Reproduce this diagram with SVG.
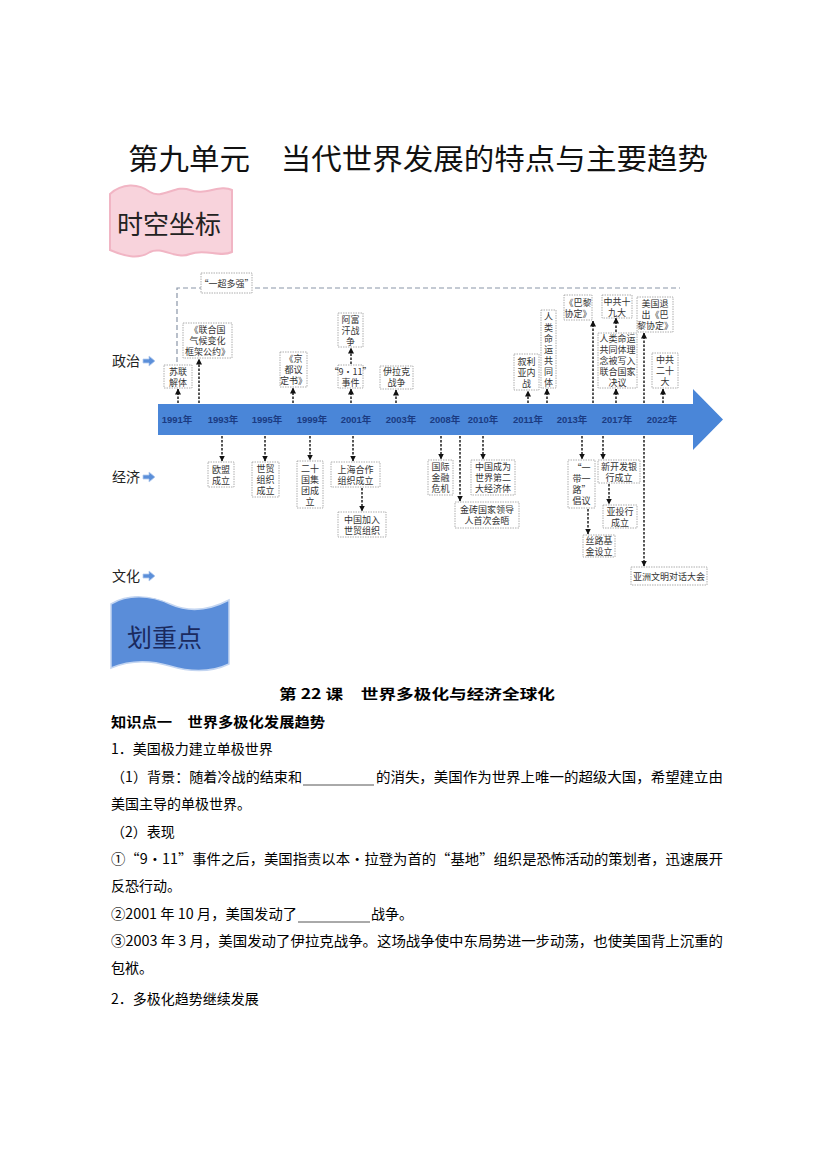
<svg xmlns="http://www.w3.org/2000/svg" width="827" height="1169" viewBox="0 0 827 1169">
<defs>
<marker id="ah" markerUnits="userSpaceOnUse" markerWidth="6" markerHeight="6" refX="5.5" refY="3" orient="auto">
<path d="M0,0 L6,3 L0,6 Z" fill="#111"/>
</marker>
<style>
.box{fill:#fff;stroke:#9a9a9a;stroke-width:0.8;stroke-dasharray:1.5 1;}
.bt{font-family:"Noto Sans CJK SC",sans-serif;font-size:9px;fill:#333;text-anchor:middle;}
.arr{stroke:#111;stroke-width:1.4;stroke-dasharray:2.5 1.5;fill:none;marker-end:url(#ah);}
.yr{font-family:"Liberation Sans","Noto Sans CJK SC",sans-serif;font-size:9.5px;font-weight:bold;fill:#1b3b82;text-anchor:middle;}
.body{font-family:"Noto Sans CJK SC",sans-serif;font-size:14px;fill:#000;}
.b{font-weight:bold;}
.lab{font-family:"Noto Sans CJK SC",sans-serif;font-size:14px;fill:#222;}
.ico{fill:#5b8fd9;stroke:#b5cbef;stroke-width:0.8;}
.ul{stroke:#555;stroke-width:1;}
</style>
</defs>
<rect width="827" height="1169" fill="#fff"/>

<g id="title">
<text x="128" y="170" font-family="Noto Sans CJK SC, sans-serif" font-size="29" fill="#111" textLength="580" lengthAdjust="spacingAndGlyphs">第九单元　当代世界发展的特点与主要趋势</text>
</g>

<g id="banner-shikong">
<path d="M110,194 C122,183 138,183 150,192 C162,200 176,184 190,190 C204,196 220,184 232,190 L232,252 C220,258 205,248 190,254 C176,260 162,246 150,252 C138,260 124,256 110,250 Z" fill="#f8d3dc" stroke="#f1b5c4" stroke-width="2"/>
<text x="117" y="234" font-family="Noto Sans CJK SC, sans-serif" font-size="26" fill="#222">时空坐标</text>
</g>

<g id="row-labels">
<text class="lab" x="112" y="366">政治</text>
<path class="ico" d="M143,359 H149 V356 L155,361 L149,366 V363 H143 Z"/>
<text class="lab" x="112" y="482">经济</text>
<path class="ico" d="M143,475 H149 V472 L155,477 L149,482 V479 H143 Z"/>
<text class="lab" x="112" y="581">文化</text>
<path class="ico" d="M143,574 H149 V571 L155,576 L149,581 V578 H143 Z"/>
</g>

<g id="bracket">
<path d="M177,362 L177,288 L680,288" fill="none" stroke="#8a96a8" stroke-width="1.2" stroke-dasharray="5 3"/>
</g>

<g id="timeline">
<path d="M158,404 H693 V389 L723,419.5 L693,450 V435 H158 Z" fill="#4a86d8"/>
<text class="yr" x="177" y="423">1991年</text>
<text class="yr" x="223" y="423">1993年</text>
<text class="yr" x="267" y="423">1995年</text>
<text class="yr" x="312" y="423">1999年</text>
<text class="yr" x="356" y="423">2001年</text>
<text class="yr" x="401" y="423">2003年</text>
<text class="yr" x="445" y="423">2008年</text>
<text class="yr" x="483" y="423">2010年</text>
<text class="yr" x="528" y="423">2011年</text>
<text class="yr" x="572" y="423">2013年</text>
<text class="yr" x="617" y="423">2017年</text>
<text class="yr" x="662" y="423">2022年</text>
</g>

<g id="connectors">
<line class="arr" x1="178" y1="403" x2="178" y2="389"/>
<line class="arr" x1="199" y1="403" x2="199" y2="359"/>
<line class="arr" x1="293" y1="403" x2="293" y2="388"/>
<line class="arr" x1="351" y1="403" x2="351" y2="389"/>
<line class="arr" x1="351" y1="364" x2="351" y2="348"/>
<line class="arr" x1="396" y1="403" x2="396" y2="390"/>
<line class="arr" x1="528" y1="403" x2="528" y2="391"/>
<line class="arr" x1="547" y1="403" x2="547" y2="389"/>
<line class="arr" x1="593" y1="403" x2="593" y2="321"/>
<line class="arr" x1="616" y1="332" x2="616" y2="318"/>
<line class="arr" x1="616" y1="403" x2="616" y2="389"/>
<line class="arr" x1="644" y1="403" x2="644" y2="333"/>
<line class="arr" x1="663" y1="403" x2="663" y2="389"/>
<line class="arr" x1="222" y1="436" x2="222" y2="461"/>
<line class="arr" x1="265" y1="436" x2="265" y2="461"/>
<line class="arr" x1="310" y1="436" x2="310" y2="460"/>
<line class="arr" x1="353" y1="436" x2="353" y2="461"/>
<line class="arr" x1="362" y1="488" x2="362" y2="511"/>
<line class="arr" x1="441" y1="436" x2="441" y2="459"/>
<line class="arr" x1="460" y1="436" x2="460" y2="501"/>
<line class="arr" x1="483" y1="436" x2="483" y2="459"/>
<line class="arr" x1="582" y1="436" x2="582" y2="459"/>
<line class="arr" x1="588" y1="509" x2="588" y2="534"/>
<line class="arr" x1="603" y1="436" x2="603" y2="459"/>
<line class="arr" x1="609" y1="484" x2="609" y2="504"/>
<line class="arr" x1="644" y1="436" x2="644" y2="566"/>
</g>

<g id="n-yichao"><rect class="box" x="201" y="273" width="51" height="20"/><text class="bt" x="226.5" y="286.5">“一超多强”</text></g>
<g id="n-sulian"><rect class="box" x="164" y="365" width="28" height="23"/><text class="bt" x="178" y="374.5">苏联</text><text class="bt" x="178" y="385.5">解体</text></g>
<g id="n-unfccc"><rect class="box" x="183" y="323" width="49" height="35"/><text class="bt" x="207.5" y="333">《联合国</text><text class="bt" x="207.5" y="344">气候变化</text><text class="bt" x="207.5" y="355">框架公约》</text></g>
<g id="n-kyoto"><rect class="box" x="280" y="352" width="27" height="35"/><text class="bt" x="293.5" y="362">《京</text><text class="bt" x="293.5" y="373">都议</text><text class="bt" x="293.5" y="384">定书》</text></g>
<g id="n-afghan"><rect class="box" x="338" y="313" width="25" height="34"/><text class="bt" x="350.5" y="322.5">阿富</text><text class="bt" x="350.5" y="333.5">汗战</text><text class="bt" x="350.5" y="344.5">争</text></g>
<g id="n-911"><rect class="box" x="338" y="365" width="25" height="23"/><text class="bt" x="350.5" y="374.5">“9·11”</text><text class="bt" x="350.5" y="385.5">事件</text></g>
<g id="n-iraq"><rect class="box" x="380" y="366" width="33" height="23"/><text class="bt" x="396.5" y="375">伊拉克</text><text class="bt" x="396.5" y="386">战争</text></g>
<g id="n-syria"><rect class="box" x="514" y="354" width="25" height="36"/><text class="bt" x="526.5" y="364.5">叙利</text><text class="bt" x="526.5" y="375.5">亚内</text><text class="bt" x="526.5" y="386.5">战</text></g>
<g id="n-community"><rect class="box" x="541" y="310" width="15" height="78"/><text class="bt" x="548.5" y="319.5">人</text><text class="bt" x="548.5" y="330.5">类</text><text class="bt" x="548.5" y="341.5">命</text><text class="bt" x="548.5" y="352.5">运</text><text class="bt" x="548.5" y="363.5">共</text><text class="bt" x="548.5" y="374.5">同</text><text class="bt" x="548.5" y="385.5">体</text></g>
<g id="n-paris"><rect class="box" x="564" y="295" width="28" height="25"/><text class="bt" x="578" y="305.5">《巴黎</text><text class="bt" x="578" y="316.5">协定》</text></g>
<g id="n-19th"><rect class="box" x="602" y="295" width="30" height="23"/><text class="bt" x="617" y="304.5">中共十</text><text class="bt" x="617" y="315.5">九大</text></g>
<g id="n-community-un"><rect class="box" x="598" y="333" width="39" height="55"/><text class="bt" x="617.5" y="342">人类命运</text><text class="bt" x="617.5" y="353">共同体理</text><text class="bt" x="617.5" y="364">念被写入</text><text class="bt" x="617.5" y="375">联合国家</text><text class="bt" x="617.5" y="386">决议</text></g>
<g id="n-usexit"><rect class="box" x="637" y="297" width="36" height="35"/><text class="bt" x="655" y="307">美国退</text><text class="bt" x="655" y="318">出《巴</text><text class="bt" x="655" y="329">黎协定》</text></g>
<g id="n-20th"><rect class="box" x="652" y="353" width="26" height="35"/><text class="bt" x="665" y="363">中共</text><text class="bt" x="665" y="374">二十</text><text class="bt" x="665" y="385">大</text></g>

<g id="n-eu"><rect class="box" x="208" y="462" width="26" height="25"/><text class="bt" x="221" y="472.5">欧盟</text><text class="bt" x="221" y="483.5">成立</text></g>
<g id="n-wto"><rect class="box" x="252" y="462" width="27" height="35"/><text class="bt" x="265.5" y="472">世贸</text><text class="bt" x="265.5" y="483">组织</text><text class="bt" x="265.5" y="494">成立</text></g>
<g id="n-g20"><rect class="box" x="297" y="461" width="26" height="47"/><text class="bt" x="310" y="471.5">二十</text><text class="bt" x="310" y="482.5">国集</text><text class="bt" x="310" y="493.5">团成</text><text class="bt" x="310" y="504.5">立</text></g>
<g id="n-sco"><rect class="box" x="331" y="462" width="49" height="25"/><text class="bt" x="355.5" y="472.5">上海合作</text><text class="bt" x="355.5" y="483.5">组织成立</text></g>
<g id="n-chinawto"><rect class="box" x="338" y="512" width="48" height="25"/><text class="bt" x="362" y="522.5">中国加入</text><text class="bt" x="362" y="533.5">世贸组织</text></g>
<g id="n-crisis"><rect class="box" x="428" y="460" width="25" height="35"/><text class="bt" x="440.5" y="470">国际</text><text class="bt" x="440.5" y="481">金融</text><text class="bt" x="440.5" y="492">危机</text></g>
<g id="n-brics"><rect class="box" x="455" y="502" width="64" height="26"/><text class="bt" x="487" y="513">金砖国家领导</text><text class="bt" x="487" y="524">人首次会晤</text></g>
<g id="n-second"><rect class="box" x="471" y="460" width="44" height="35"/><text class="bt" x="493" y="470">中国成为</text><text class="bt" x="493" y="481">世界第二</text><text class="bt" x="493" y="492">大经济体</text></g>
<g id="n-beltroad"><rect class="box" x="568" y="460" width="27" height="48"/><text class="bt" x="581.5" y="471">“一</text><text class="bt" x="581.5" y="482">带一</text><text class="bt" x="581.5" y="493">路”</text><text class="bt" x="581.5" y="504">倡议</text></g>
<g id="n-silkfund"><rect class="box" x="583" y="535" width="32" height="22"/><text class="bt" x="599" y="544">丝路基</text><text class="bt" x="599" y="555">金设立</text></g>
<g id="n-ndb"><rect class="box" x="598" y="460" width="42" height="23"/><text class="bt" x="619" y="469.5">新开发银</text><text class="bt" x="619" y="480.5">行成立</text></g>
<g id="n-aiib"><rect class="box" x="603" y="505" width="34" height="23"/><text class="bt" x="620" y="514.5">亚投行</text><text class="bt" x="620" y="525.5">成立</text></g>
<g id="n-asiaciv"><rect class="box" x="631" y="567" width="76" height="18"/><text class="bt" x="669" y="579.5">亚洲文明对话大会</text></g>

<g id="banner-huazhongdian">
<path d="M111,604 C128,594 150,595 170,604 C190,613 210,610 229,600 L229,664 C210,673 190,672 170,666 C150,660 130,660 111,668 Z" fill="#5a8dd9" stroke="#c3d5f1" stroke-width="1.5"/>
<text x="127" y="647" font-family="Noto Sans CJK SC, sans-serif" font-size="25" fill="#1a2a5e">划重点</text>
</g>

<g id="content">
<text class="body b" x="279" y="699" font-size="16" textLength="276" lengthAdjust="spacingAndGlyphs">第 22 课　世界多极化与经济全球化</text>
<text class="body b" x="111" y="727" textLength="214" lengthAdjust="spacingAndGlyphs">知识点一　世界多极化发展趋势</text>
<text class="body" x="111" y="754">1．美国极力建立单极世界</text>
<text class="body" x="111" y="782" textLength="191" lengthAdjust="spacingAndGlyphs">（1）背景：随着冷战的结束和</text>
<line class="ul" x1="303" y1="785" x2="374" y2="785"/>
<text class="body" x="376" y="782" textLength="347" lengthAdjust="spacingAndGlyphs">的消失，美国作为世界上唯一的超级大国，希望建立由</text>
<text class="body" x="111" y="809">美国主导的单极世界。</text>
<text class="body" x="111" y="837">（2）表现</text>
<text class="body" x="111" y="864" textLength="612" lengthAdjust="spacingAndGlyphs">①“9·11”事件之后，美国指责以本·拉登为首的“基地”组织是恐怖活动的策划者，迅速展开</text>
<text class="body" x="111" y="891">反恐行动。</text>
<text class="body" x="111" y="919" textLength="186" lengthAdjust="spacingAndGlyphs">②2001 年 10 月，美国发动了</text>
<line class="ul" x1="298" y1="922" x2="370" y2="922"/>
<text class="body" x="371" y="919">战争。</text>
<text class="body" x="111" y="946" textLength="612" lengthAdjust="spacingAndGlyphs">③2003 年 3 月，美国发动了伊拉克战争。这场战争使中东局势进一步动荡，也使美国背上沉重的</text>
<text class="body" x="111" y="973">包袱。</text>
<text class="body" x="111" y="1004">2．多极化趋势继续发展</text>
</g>
</svg>
